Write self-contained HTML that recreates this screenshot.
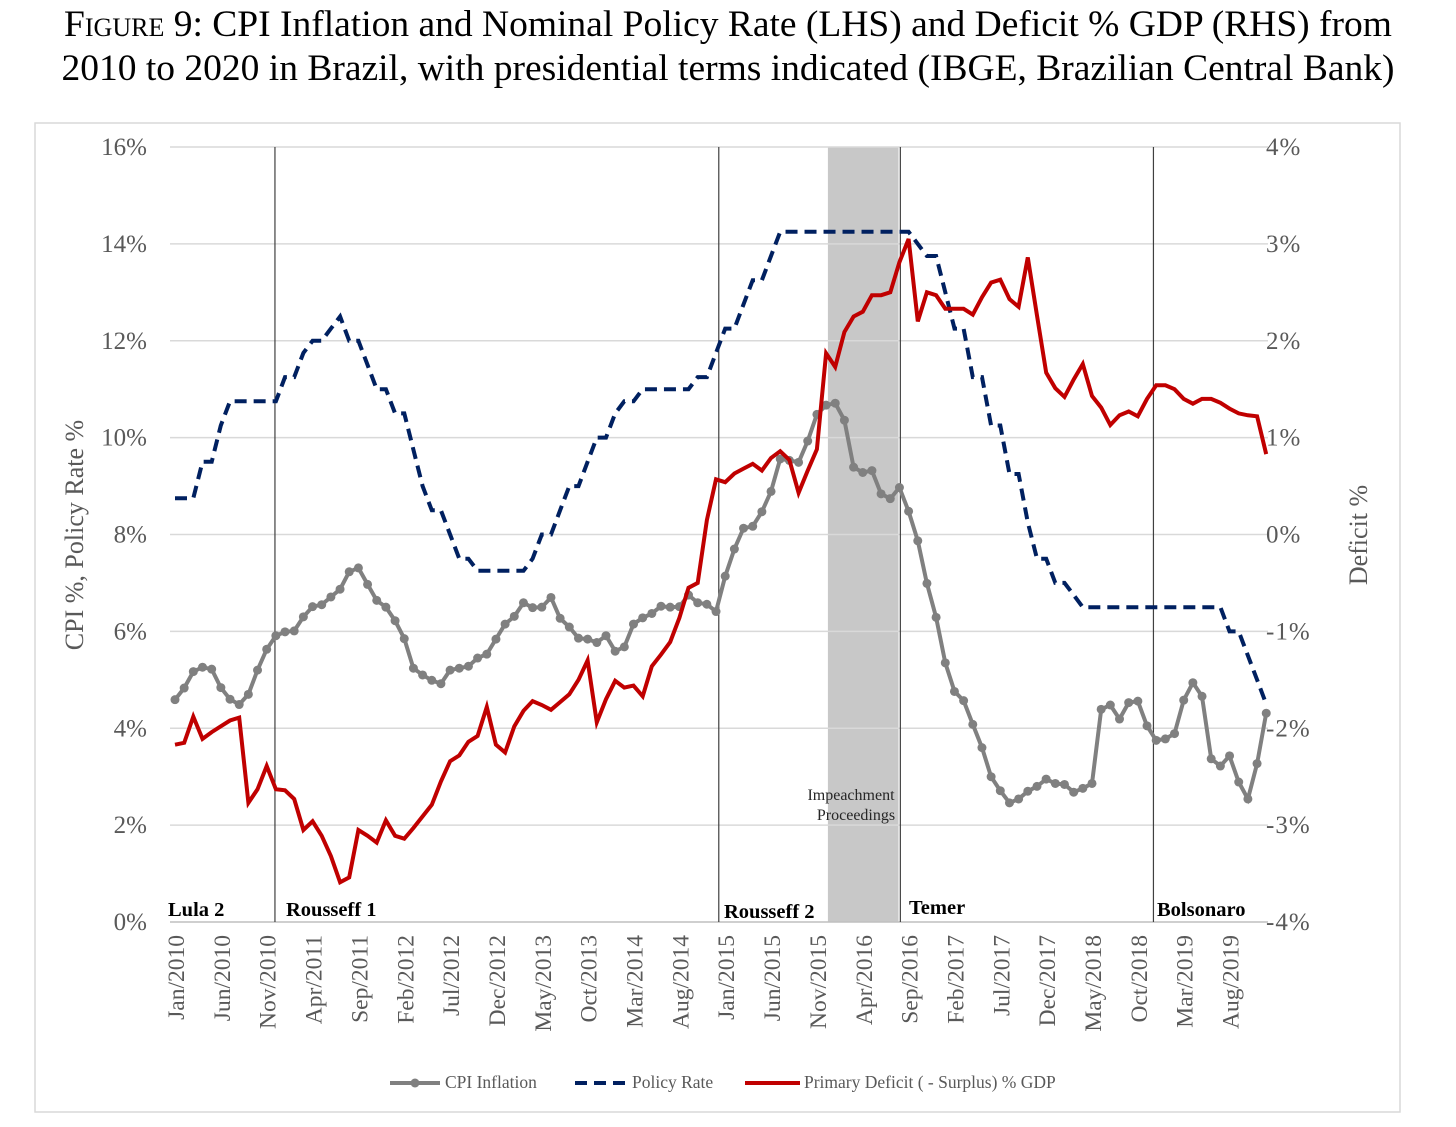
<!DOCTYPE html>
<html><head><meta charset="utf-8">
<style>
body{margin:0;background:#fff;width:1456px;height:1127px;overflow:hidden;font-family:"Liberation Serif",serif;}
#title{position:absolute;left:0;top:3px;width:1456px;text-align:center;font-size:37.5px;line-height:44px;color:#000;white-space:nowrap;}
.sc{font-variant:small-caps;}
svg{position:absolute;left:0;top:0;}
</style></head><body>
<div id="title"><span class="sc">Figure</span> 9: CPI Inflation and Nominal Policy Rate (LHS) and Deficit % GDP (RHS) from<br>2010 to 2020 in Brazil, with presidential terms indicated (IBGE, Brazilian Central Bank)</div>
<svg id="chart" width="1456" height="1127"></svg>
<script>
const cpi=[4.59,4.83,5.17,5.26,5.22,4.84,4.60,4.49,4.70,5.20,5.63,5.91,
5.99,6.01,6.30,6.51,6.55,6.71,6.87,7.23,7.31,6.97,6.64,6.50,
6.22,5.85,5.24,5.10,4.99,4.92,5.20,5.24,5.28,5.45,5.53,5.84,
6.15,6.31,6.59,6.49,6.50,6.70,6.27,6.09,5.86,5.84,5.77,5.91,
5.59,5.68,6.15,6.28,6.37,6.52,6.50,6.51,6.75,6.59,6.56,6.41,
7.14,7.70,8.13,8.17,8.47,8.89,9.56,9.53,9.49,9.93,10.48,10.67,
10.71,10.36,9.39,9.28,9.32,8.84,8.74,8.97,8.48,7.87,6.99,6.29,
5.35,4.76,4.57,4.08,3.60,3.00,2.71,2.46,2.54,2.70,2.80,2.95,
2.86,2.84,2.68,2.76,2.86,4.39,4.48,4.19,4.53,4.56,4.05,3.75,
3.78,3.89,4.58,4.94,4.66,3.37,3.22,3.43,2.89,2.54,3.27,4.31];
const policy=[8.75,8.75,8.75,9.5,9.5,10.25,10.75,10.75,10.75,10.75,10.75,10.75,
11.25,11.25,11.75,12,12,12.25,12.5,12,12,11.5,11,11,
10.5,10.5,9.75,9,8.5,8.5,8,7.5,7.5,7.25,7.25,7.25,
7.25,7.25,7.25,7.5,8,8,8.5,9,9,9.5,10,10,
10.5,10.75,10.75,11,11,11,11,11,11,11.25,11.25,11.75,
12.25,12.25,12.75,13.25,13.25,13.75,14.25,14.25,14.25,14.25,14.25,14.25,
14.25,14.25,14.25,14.25,14.25,14.25,14.25,14.25,14.25,14,13.75,13.75,
13,12.25,12.25,11.25,11.25,10.25,10.25,9.25,9.25,8.25,7.5,7.5,
7,7,6.75,6.5,6.5,6.5,6.5,6.5,6.5,6.5,6.5,6.5,
6.5,6.5,6.5,6.5,6.5,6.5,6.5,6,6,5.5,5,4.5];
const deficit=[-2.17,-2.15,-1.88,-2.11,-2.04,-1.98,-1.92,-1.89,-2.77,-2.63,
-2.39,-2.63,-2.64,-2.73,-3.05,-2.96,-3.11,-3.32,-3.59,-3.54,
-3.05,-3.11,-3.18,-2.95,-3.11,-3.14,-3.03,-2.91,-2.79,-2.55,
-2.34,-2.28,-2.14,-2.08,-1.78,-2.17,-2.25,-1.98,-1.82,-1.72,
-1.76,-1.81,-1.73,-1.65,-1.5,-1.3,-1.94,-1.7,-1.51,-1.58,
-1.56,-1.67,-1.36,-1.24,-1.11,-0.86,-0.55,-0.5,0.15,0.57,
0.54,0.63,0.68,0.73,0.66,0.79,0.86,0.77,0.43,0.66,
0.88,1.87,1.73,2.09,2.25,2.3,2.47,2.47,2.5,2.81,
3.05,2.2,2.5,2.47,2.33,2.33,2.33,2.27,2.45,2.6,
2.63,2.43,2.35,2.86,2.26,1.67,1.51,1.42,1.6,1.76,
1.43,1.31,1.13,1.23,1.27,1.22,1.4,1.54,1.54,1.5,
1.4,1.35,1.4,1.4,1.36,1.3,1.25,1.23,1.22,0.83];
const monthNames=["Jan","Feb","Mar","Apr","May","Jun","Jul","Aug","Sep","Oct","Nov","Dec"];
const leftTicks=[0,2,4,6,8,10,12,14,16];
const rightTicks=[-4,-3,-2,-1,0,1,2,3,4];
const terms=[{name:"Lula 2",start:0,lx:168,ly:916},{name:"Rousseff 1",start:10.9,lx:286,ly:916},{name:"Rousseff 2",start:59.3,lx:724,ly:918},{name:"Temer",start:79.1,lx:909,ly:914},{name:"Bolsonaro",start:106.7,lx:1157,ly:916}];
const shadeStart=71.2, shadeEnd=78.9;

const svg=document.getElementById('chart');
const NS='http://www.w3.org/2000/svg';
const X0=175,DX=9.17,YB=922,YT=147;
const x=i=>X0+DX*i;
const yL=v=>YB-(v/16)*(YB-YT);
const yR=v=>YB-((v+4)/8)*(YB-YT);
function mk(t,a,p){const e=document.createElementNS(NS,t);for(const k in a)e.setAttribute(k,a[k]);(p||svg).appendChild(e);return e;}

const frame=mk('rect',{x:35,y:123,width:1365,height:989,fill:'none',stroke:'#d9d9d9','stroke-width':1.5});



const shade=mk('rect',{x:x(shadeStart),y:YT,width:x(shadeEnd)-x(shadeStart),height:YB-YT,fill:'#c8c8c8'});



leftTicks.forEach((v,k)=>{
  const g=mk('line',{x1:170,x2:1268,y1:yL(v),y2:yL(v),stroke:v===0?'#bfbfbf':'#d9d9d9','stroke-width':1.5});
  
  
  const t=mk('text',{x:147,y:yL(v)+8,'text-anchor':'end','font-size':25,fill:'#595959','font-family':'Liberation Serif, serif'});
  t.textContent=v+'%';
  
  
  const r=mk('text',{x:1266,y:yR(rightTicks[k])+8,'text-anchor':'start','font-size':25,fill:'#595959','font-family':'Liberation Serif, serif','letter-spacing':'1'});
  r.textContent=rightTicks[k]+'%';
  
  
});

for(let i=0;i<cpi.length;i+=5){
  const yr=2010+Math.floor(i/12);
  const t=mk('text',{transform:`translate(${x(i)+9},935) rotate(-90)`,'text-anchor':'end','font-size':23.5,fill:'#595959','font-family':'Liberation Serif, serif'});
  t.textContent=monthNames[i%12]+'/'+yr;
  
  
}

terms.forEach(tm=>{
  if(tm.start>0){
    const l=mk('line',{x1:x(tm.start),x2:x(tm.start),y1:YT,y2:YB,stroke:'#404040','stroke-width':1.2});
    
    
  }
  const t=mk('text',{x:tm.lx,y:tm.ly,'font-size':20.5,'font-weight':'bold',fill:'#000','font-family':'Liberation Serif, serif'});
  t.textContent=tm.name;
  
  
});
['Impeachment','Proceedings'].forEach((s,k)=>{
  const t=mk('text',{x:(k?856:851),y:800+k*20,'text-anchor':'middle','font-size':16,fill:'#262626','font-family':'Liberation Serif, serif'});
  t.textContent=s;
  
  
});

function pts(arr,yf){return arr.map((v,i)=>x(i).toFixed(1)+','+yf(v).toFixed(1)).join(' ');}
const pr=mk('polyline',{points:pts(policy,yL),fill:'none',stroke:'#002060','stroke-width':4,'stroke-dasharray':'12,7'});


const cl=mk('polyline',{points:pts(cpi,yL),fill:'none',stroke:'#808080','stroke-width':4});


cpi.forEach((v,i)=>{
  const c=mk('circle',{cx:x(i),cy:yL(v),r:4.5,fill:'#808080'});
  
  
});
const dl=mk('polyline',{points:pts(deficit,yR),fill:'none',stroke:'#c00000','stroke-width':4,'stroke-linejoin':'miter'});



const at=mk('text',{transform:'translate(83,535) rotate(-90)','text-anchor':'middle','font-size':26,fill:'#595959','font-family':'Liberation Serif, serif','xml:space':'preserve'});
at.textContent='CPI %,  Policy Rate %';


const rt=mk('text',{transform:'translate(1367,535) rotate(-90)','text-anchor':'middle','font-size':26,fill:'#595959','font-family':'Liberation Serif, serif'});
rt.textContent='Deficit %';



const LY=1083;
const l1=mk('line',{x1:390,x2:440,y1:LY,y2:LY,stroke:'#808080','stroke-width':4});


mk('circle',{cx:415,cy:LY,r:4.5,fill:'#808080'});
const l2=mk('line',{x1:575,x2:625,y1:LY,y2:LY,stroke:'#002060','stroke-width':4,'stroke-dasharray':'12,7'});


const l3=mk('line',{x1:745,x2:800,y1:LY,y2:LY,stroke:'#c00000','stroke-width':4});


[['CPI Inflation',445],['Policy Rate',632],['Primary Deficit ( - Surplus) % GDP',804]].forEach(([s,lx])=>{
  const t=mk('text',{x:lx,y:LY+5,'font-size':17.5,fill:'#595959','font-family':'Liberation Serif, serif'});
  t.textContent=s;
  
  
});
</script>
</body></html>
